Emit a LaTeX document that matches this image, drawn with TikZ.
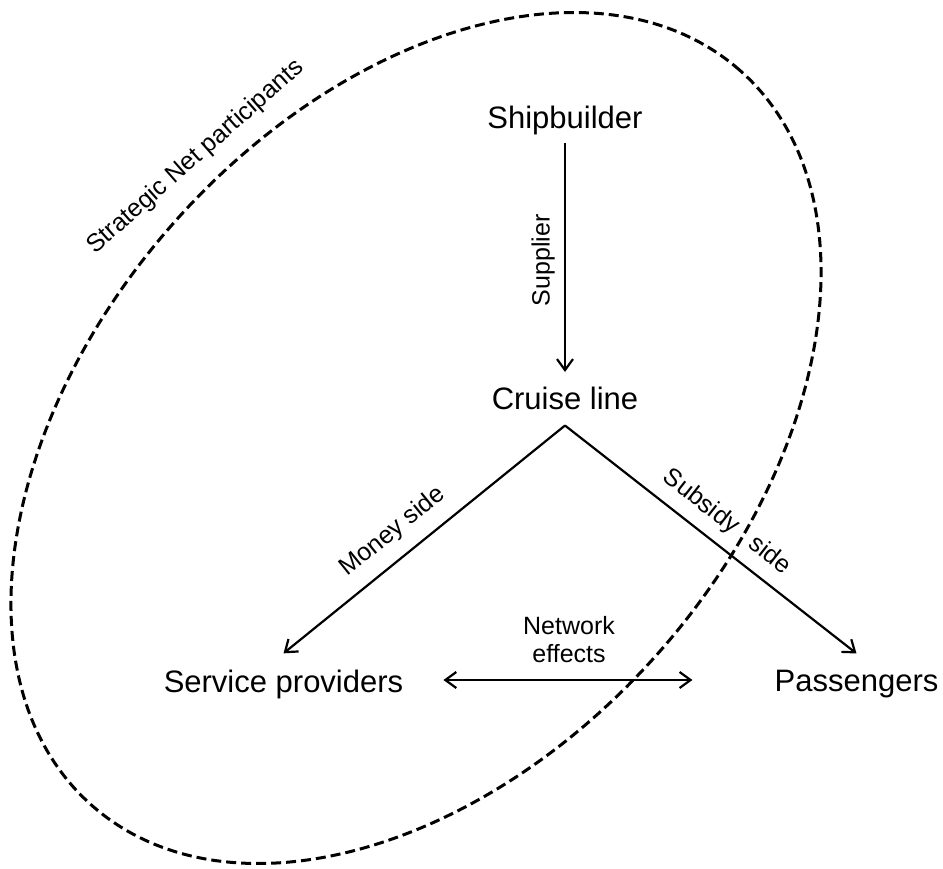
\documentclass[tikz,border=0pt]{standalone}
\usepackage{fontspec}
\setmainfont{Liberation Sans}
\usetikzlibrary{arrows.meta}
\begin{document}
\begin{tikzpicture}[x=1pt,y=-1pt,
  big/.style={inner sep=0pt, font=\fontsize{31}{36}\selectfont},
  lab/.style={inner sep=0pt, font=\fontsize{25}{28}\selectfont},
  conn/.style={line width=2.2pt, -{Straight Barb[length=11pt,width=16pt]}},
  rconn/.style={line width=2.2pt, {Straight Barb[length=11pt,width=16pt]}-},
  dconn/.style={line width=2.2pt, {Straight Barb[length=11pt,width=16pt]}-{Straight Barb[length=11pt,width=16pt]}},
  boundary/.style={line width=3pt, dash pattern=on 10pt off 5pt}
]
\fill[white] (0,0) rectangle (943,868);
\useasboundingbox (0,0) rectangle (943,868);

% dashed boundary of the strategic net
\draw[boundary, rotate around={48.6:(416,438)}] (416,438) ellipse [x radius=490pt, y radius=324pt];
\node[lab, anchor=base, rotate=41.4] (snp) at (200,162) {Strategic Net participants};

% actors
\node[big, anchor=base] (sb) at (565,128) {Shipbuilder};
\node[big, anchor=base] (cl) at (565,409) {Cruise line};
\node[big, anchor=base] (sp) at (283.5,692) {Service providers};
\node[big, anchor=base] (pa) at (856.5,691) {Passengers};
\coordinate (apex) at ([yshift=-16pt]cl.south);

% connectors
\draw[rconn, shorten <=14.4pt, shorten >=8.4pt] (cl.north) -- (sb.south)
  node[lab, midway, sloped, above=9pt] {Supplier};
\draw[conn] (apex) -- ([yshift=16pt]sp.north)
  node[lab, pos=0.554, sloped, above=13pt] {Money side};
\draw[conn] (apex) -- ([yshift=16pt]pa.north)
  node[lab, pos=0.505, sloped, above=10.7pt] {Subsidy\hspace{0.5em} side};
\draw[dconn] ([xshift=40pt,yshift=12pt]sp.base east) -- ([xshift=-82pt,yshift=11pt]pa.base west);
\node[lab, align=center] (ne) at (569,640) {Network\\effects};
\end{tikzpicture}
\end{document}
